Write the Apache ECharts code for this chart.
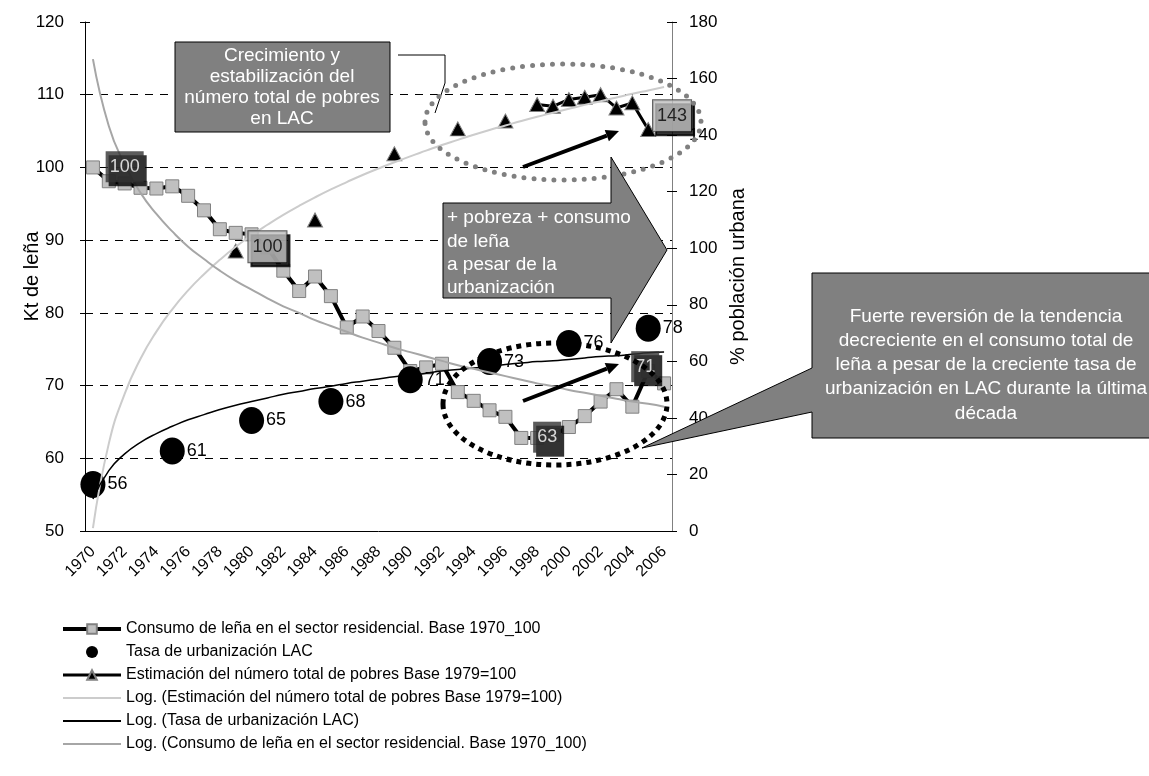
<!DOCTYPE html>
<html>
<head>
<meta charset="utf-8">
<script src="https://cdn.jsdelivr.net/npm/echarts@6/dist/echarts.min.js"></script>
<style>
  html, body { margin: 0; padding: 0; background: #fff; }
  #chart { width: 1149px; height: 776px; }
</style>
</head>
<body>
<div id="chart"></div>
<script>
const years = ['1970', '1971', '1972', '1973', '1974', '1975', '1976', '1977', '1978', '1979',
  '1980', '1981', '1982', '1983', '1984', '1985', '1986', '1987', '1988', '1989',
  '1990', '1991', '1992', '1993', '1994', '1995', '1996', '1997', '1998', '1999',
  '2000', '2001', '2002', '2003', '2004', '2005', '2006'];

// Consumo de leña, base 1970 = 100 (left axis)
const consumo = [100, 98.1, 97.8, 97.2, 97.1, 97.4, 96.1, 94.1, 91.5, 91.0,
  90.8, 89.0, 85.8, 83.0, 85.0, 82.3, 78.0, 79.5, 77.5, 75.2,
  72.0, 72.5, 73.0, 69.1, 67.9, 66.6, 65.7, 62.8, 62.8, 63.2,
  64.3, 65.8, 67.8, 69.5, 67.1, 72.0, 70.3];

// Tasa de urbanización (plotted on left axis)
const urbanYears = ['1970', '1975', '1980', '1985', '1990', '1995', '2000', '2005'];
const urbanRate = [56.4, 61.0, 65.2, 67.8, 70.8, 73.3, 75.8, 77.9];

// Número total de pobres, base 1979 = 100 (right axis)
const poorYears = ['1979', '1984', '1989', '1993', '1996', '1998', '1999', '2000', '2001', '2002', '2003', '2004', '2005'];
const poorCount = [99, 110, 133.4, 142.2, 145, 150.8, 150.2, 152.6, 153.4, 154.3, 149.6, 151.4, 142];

// trendlines
const trendPoor = [1.0, 30.9, 48.5, 60.9, 70.5, 78.4, 85.1, 90.8, 95.9, 100.5,
  104.6, 108.3, 111.8, 115.0, 118.0, 120.8, 123.4, 125.9, 128.2, 130.4,
  132.5, 134.5, 136.5, 138.3, 140.1, 141.8, 143.4, 145.0, 146.5, 147.9,
  149.3, 150.7, 152.0, 153.3, 154.6, 155.8, 157.0];
const trendUrban = [54.4, 58.3, 60.6, 62.2, 63.4, 64.4, 65.3, 66.0, 66.7, 67.3,
  67.8, 68.3, 68.8, 69.2, 69.6, 69.9, 70.3, 70.6, 70.9, 71.2,
  71.4, 71.7, 72.0, 72.2, 72.4, 72.6, 72.9, 73.1, 73.3, 73.4,
  73.6, 73.8, 74.0, 74.1, 74.3, 74.5, 74.6];
const trendConsumo = [114.9, 105.7, 100.4, 96.5, 93.6, 91.2, 89.1, 87.4, 85.8, 84.4,
  83.2, 82.0, 80.9, 80.0, 79.0, 78.2, 77.4, 76.6, 75.9, 75.2,
  74.6, 74.0, 73.4, 72.8, 72.3, 71.8, 71.3, 70.8, 70.3, 69.9,
  69.4, 69.0, 68.6, 68.2, 67.8, 67.5, 67.1];

// value boxes: [year, left-axis value, text, kind]
const valueLabels = [
  ['1972', 100.1, '100', 'dark'],
  ['1981', 89.1, '100', 'light'],
  ['1998', 62.9, '63', 'dark'],
  ['2005', 72.6, '71', 'dark'],
  ['2006', 107.1, '143', 'light']
];

const FONT = '"Liberation Sans", Arial, sans-serif';
const chart = echarts.init(document.getElementById('chart'));

const poorRow = years.map(y => {
  const i = poorYears.indexOf(y);
  return i < 0 ? null : poorCount[i];
});

const nudge = { '1998': 10, '2005': -3, '2006': 8 };
const labelData = valueLabels.map(([y, v, txt, kind]) => ({
  value: [y, v],
  label: {
    show: true,
    position: 'inside',
    offset: [nudge[y] || 0, 0],
    formatter: txt,
    fontSize: 18,
    fontFamily: FONT,
    color: kind === 'dark' ? '#fff' : '#000',
    backgroundColor: kind === 'dark' ? '#333' : '#c0c0c0',
    borderColor: '#333',
    borderWidth: kind === 'dark' ? 0 : 1,
    padding: [7, 4, 6, 4],
    shadowColor: '#000',
    shadowBlur: 0,
    shadowOffsetX: 3,
    shadowOffsetY: 4
  }
}));

function arrow(x1, y1, x2, y2) {
  const dx = x2 - x1, dy = y2 - y1, len = Math.sqrt(dx * dx + dy * dy);
  const ux = dx / len, uy = dy / len, hl = 13, hw = 6;
  const bx = x2 - ux * hl, by = y2 - uy * hl;
  return [
    { type: 'line', z: 100, shape: { x1: x1, y1: y1, x2: bx, y2: by }, style: { stroke: '#000', lineWidth: 4 } },
    { type: 'polygon', z: 100, shape: { points: [[x2, y2], [bx - uy * hw, by + ux * hw], [bx + uy * hw, by - ux * hw]] }, style: { fill: '#000' } }
  ];
}

const calloutText = { fill: '#fff', fontSize: 19, fontFamily: FONT };

const graphics = [
  // top callout
  { type: 'rect', z: 100, shape: { x: 175, y: 42, width: 215, height: 90 }, style: { fill: '#808080', stroke: '#000', lineWidth: 1 } },
  { type: 'text', z: 101, style: Object.assign({ text: 'Crecimiento y\nestabilización del\nnúmero total de pobres\nen LAC', x: 282, y: 87, align: 'center', verticalAlign: 'middle', lineHeight: 21 }, calloutText) },
  { type: 'polyline', z: 100, shape: { points: [[398, 55], [445, 55], [445, 83], [435, 113]] }, style: { stroke: '#000', lineWidth: 1, fill: null } },
  // dotted ellipses
  { type: 'ellipse', z: 100, shape: { cx: 563, cy: 122, rx: 138, ry: 58 }, style: { fill: 'rgba(0,0,0,0)', stroke: '#808080', lineWidth: 5, lineDash: [0, 10], lineCap: 'round' } },
  { type: 'ellipse', z: 100, shape: { cx: 555, cy: 404, rx: 112, ry: 61 }, style: { fill: 'rgba(0,0,0,0)', stroke: '#000', lineWidth: 5, lineDash: [5, 5] } },
  // block arrow
  { type: 'polygon', z: 100, shape: { points: [[443, 203], [611, 203], [611, 157], [667, 250], [611, 343], [611, 298], [443, 298]] }, style: { fill: '#808080', stroke: '#000', lineWidth: 1 } },
  { type: 'text', z: 101, style: Object.assign({ text: '+ pobreza + consumo\nde leña\na pesar de la\nurbanización', x: 447, y: 253, align: 'left', verticalAlign: 'middle', lineHeight: 23.3 }, calloutText) },
  // right callout
  { type: 'polygon', z: 100, shape: { points: [[812, 273], [1160, 273], [1160, 438], [812, 438], [812, 412], [642, 448], [812, 368]] }, style: { fill: '#808080', stroke: '#000', lineWidth: 1 } },
  { type: 'text', z: 101, style: Object.assign({ text: 'Fuerte reversión de la tendencia\ndecreciente en el consumo total de\nleña a pesar de la creciente tasa de\nurbanización en LAC durante la última\ndécada', x: 986, y: 365, align: 'center', verticalAlign: 'middle', lineHeight: 24.2 }, calloutText) }
].concat(arrow(523, 167, 619, 131), arrow(523, 401, 619, 364));

const axisText = { color: '#000', fontSize: 16, fontFamily: FONT };
const titleText = { color: '#000', fontSize: 20, fontFamily: FONT };
const hideMarker = { opacity: 0 };

const option = {
  animation: false,
  backgroundColor: '#fff',
  textStyle: { fontFamily: FONT },
  grid: { left: 85, top: 22, width: 587, height: 509 },
  legend: {
    orient: 'vertical',
    left: 56,
    top: 616,
    itemWidth: 58,
    itemHeight: 12,
    itemGap: 7,
    textStyle: { color: '#000', fontSize: 16, fontFamily: FONT },
    data: [
      { name: 'Consumo de leña en el sector residencial. Base 1970_100', lineStyle: { width: 4, color: '#000' } },
      { name: 'Tasa de urbanización LAC' },
      { name: 'Estimación del número total de pobres Base 1979=100', lineStyle: { width: 3, color: '#000' } },
      { name: 'Log. (Estimación del número total de pobres Base 1979=100)', itemStyle: hideMarker },
      { name: 'Log. (Tasa de urbanización LAC)', itemStyle: hideMarker },
      { name: 'Log. (Consumo de leña en el sector residencial. Base 1970_100)', itemStyle: hideMarker }
    ]
  },
  xAxis: [
    {
      type: 'category',
      data: years,
      boundaryGap: true,
      position: 'bottom',
      axisLine: { lineStyle: { color: '#000', width: 1 } },
      axisTick: { interval: 0, length: 5, lineStyle: { color: '#000' } },
      axisLabel: Object.assign({ interval: 1, rotate: 45, margin: 18 }, axisText),
      splitLine: { show: false }
    },
    {
      type: 'category',
      data: years,
      boundaryGap: true,
      position: 'bottom',
      axisLine: { show: false },
      axisTick: { inside: true, interval: 0, length: 5, lineStyle: { color: '#000' } },
      axisLabel: { show: false }
    }
  ],
  yAxis: [
    {
      type: 'value', min: 50, max: 120, interval: 10, position: 'left',
      name: 'Kt de leña', nameLocation: 'middle', nameGap: 43, nameRotate: 90,
      nameMoveOverlap: false,
      nameTextStyle: titleText,
      axisLine: { show: true, lineStyle: { color: '#000' } },
      axisTick: { show: true, length: 5, lineStyle: { color: '#000' } },
      axisLabel: Object.assign({ margin: 21 }, axisText, { fontSize: 17 }),
      splitLine: { show: true, showMinLine: false, showMaxLine: false, lineStyle: { color: '#000', type: [8, 7], width: 1 } }
    },
    {
      type: 'value', min: 0, max: 180, interval: 20, position: 'right',
      name: '% población urbana', nameLocation: 'middle', nameGap: 56, nameRotate: 90,
      nameTextStyle: titleText,
      axisLine: { show: true, lineStyle: { color: '#808080' } },
      axisTick: { show: true, length: 5, lineStyle: { color: '#000' } },
      axisLabel: Object.assign({ margin: 17 }, axisText, { fontSize: 17 }),
      splitLine: { show: false }
    },
    {
      type: 'value', min: 50, max: 120, interval: 10, position: 'left',
      axisLine: { show: false }, axisLabel: { show: false }, splitLine: { show: false },
      axisTick: { show: true, inside: true, length: 5, lineStyle: { color: '#000' } }
    },
    {
      type: 'value', min: 0, max: 180, interval: 20, position: 'right',
      axisLine: { show: false }, axisLabel: { show: false }, splitLine: { show: false },
      axisTick: { show: true, inside: true, length: 5, lineStyle: { color: '#000' } }
    }
  ],
  series: [
    {
      name: 'Consumo de leña en el sector residencial. Base 1970_100',
      type: 'line', yAxisIndex: 0, data: consumo, z: 3,
      showAllSymbol: true,
      symbol: 'rect', symbolSize: 13,
      lineStyle: { color: '#000', width: 4 },
      itemStyle: { color: '#c0c0c0', borderColor: '#808080', borderWidth: 1 }
    },
    {
      name: 'Tasa de urbanización LAC',
      type: 'scatter', yAxisIndex: 0, z: 3,
      data: urbanYears.map((y, i) => [y, urbanRate[i]]),
      symbol: 'circle', symbolSize: [25, 27],
      itemStyle: { color: '#000', opacity: 1 },
      label: {
        show: true, position: 'right', distance: 2,
        formatter: p => Math.round(p.value[1]),
        color: '#000', fontSize: 18, fontFamily: FONT
      }
    },
    {
      name: 'Estimación del número total de pobres Base 1979=100',
      type: 'line', yAxisIndex: 1, data: poorRow, connectNulls: false, z: 3,
      showAllSymbol: true,
      symbol: 'triangle', symbolSize: [15, 14],
      lineStyle: { color: '#000', width: 3 },
      itemStyle: { color: '#000', borderColor: '#808080', borderWidth: 1 }
    },
    {
      name: 'Log. (Estimación del número total de pobres Base 1979=100)',
      type: 'line', yAxisIndex: 1, data: trendPoor, smooth: true, symbol: 'none', z: 4,
      lineStyle: { color: '#cccccc', width: 2 },
      itemStyle: { color: '#cccccc' }
    },
    {
      name: 'Log. (Tasa de urbanización LAC)',
      type: 'line', yAxisIndex: 0, data: trendUrban, smooth: true, symbol: 'none', z: 4,
      lineStyle: { color: '#000', width: 1.5 },
      itemStyle: { color: '#000' }
    },
    {
      name: 'Log. (Consumo de leña en el sector residencial. Base 1970_100)',
      type: 'line', yAxisIndex: 0, data: trendConsumo, smooth: true, symbol: 'none', z: 4,
      lineStyle: { color: '#a6a6a6', width: 2 },
      itemStyle: { color: '#a6a6a6' }
    },
    {
      name: 'labels',
      type: 'scatter', yAxisIndex: 0, z: 10,
      symbolSize: 1, itemStyle: { color: 'transparent' },
      data: labelData,
      silent: true
    }
  ],
  graphic: graphics
};

chart.setOption(option);
</script>
</body>
</html>
